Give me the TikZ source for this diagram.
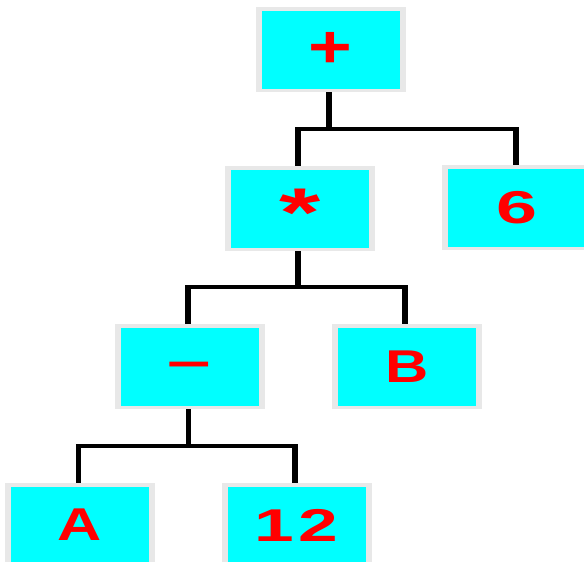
\documentclass[tikz,border=0pt]{standalone}
\usepackage{fontspec}
\setmainfont{Liberation Sans}
\usetikzlibrary{backgrounds}
\definecolor{boxgray}{RGB}{232,232,232}
\definecolor{boxcyan}{RGB}{0,255,255}
\begin{document}
\begin{tikzpicture}[x=1pt,y=-1pt,
  box/.style={fill=boxgray,minimum width=150pt,minimum height=85pt,inner sep=0pt,
    path picture={\fill[boxcyan] ([xshift=6pt,yshift=3pt]path picture bounding box.south west)
      rectangle ([xshift=-6pt,yshift=-4pt]path picture bounding box.north east);},
    font=\fontsize{46}{46}\selectfont\bfseries,text=red},
  vedge/.style={draw=black,line width=5.5pt},
  hedge/.style={draw=black,line width=4pt}]
\useasboundingbox (0,0) rectangle (584,562);
\node[box] (plus) at (330.5,49) {\raisebox{-18.3pt}[0pt][0pt]{\scalebox{1.63}[1.3]{+}}};
\node[box] (star) at (300,208) {\raisebox{-28.9pt}[0pt][0pt]{\scalebox{2.3}[1.5]{*}}};
\node[box] (six) at (517,207.5) {\scalebox{1.6}[1]{6}};
\node[box] (minus) at (189.5,366.5) {\raisebox{-11pt}[0pt][0pt]{\scalebox{1.7}[1.05]{–}}};
\node[box] (B) at (407,366.5) {\scalebox{1.3}[1]{B}};
\node[box] (A) at (80,525) {\scalebox{1.33}[1]{A}};
\node[box] (twelve) at (296.5,525) {\scalebox{1.55}[1]{1\hspace{3pt}2}};
\coordinate (j1) at (329,128.5);
\coordinate (j2) at (298,287);
\coordinate (j3) at (188.5,446);
\coordinate (d1l) at (298,128.5);
\coordinate (d1r) at (516,128.5);
\coordinate (d2l) at (188,287);
\coordinate (d2r) at (405,287);
\coordinate (d3l) at (78.5,446);
\coordinate (d3r) at (295,446);
\begin{scope}[on background layer]
\draw[vedge] (plus.center -| j1) -- (j1);
\draw[hedge] ([xshift=-2.75pt]d1l) -- ([xshift=2.75pt]d1r);
\draw[vedge] (d1l) -- (star.center -| d1l);
\draw[vedge] (d1r) -- (six.center -| d1r);
\draw[vedge] (star.center -| j2) -- (j2);
\draw[hedge] ([xshift=-2.75pt]d2l) -- ([xshift=2.75pt]d2r);
\draw[vedge] (d2l) -- (minus.center -| d2l);
\draw[vedge] (d2r) -- (B.center -| d2r);
\draw[vedge] (minus.center -| j3) -- (j3);
\draw[hedge] ([xshift=-2.75pt]d3l) -- ([xshift=2.75pt]d3r);
\draw[vedge] (d3l) -- (A.center -| d3l);
\draw[vedge] (d3r) -- (twelve.center -| d3r);
\end{scope}
\end{tikzpicture}
\end{document}
